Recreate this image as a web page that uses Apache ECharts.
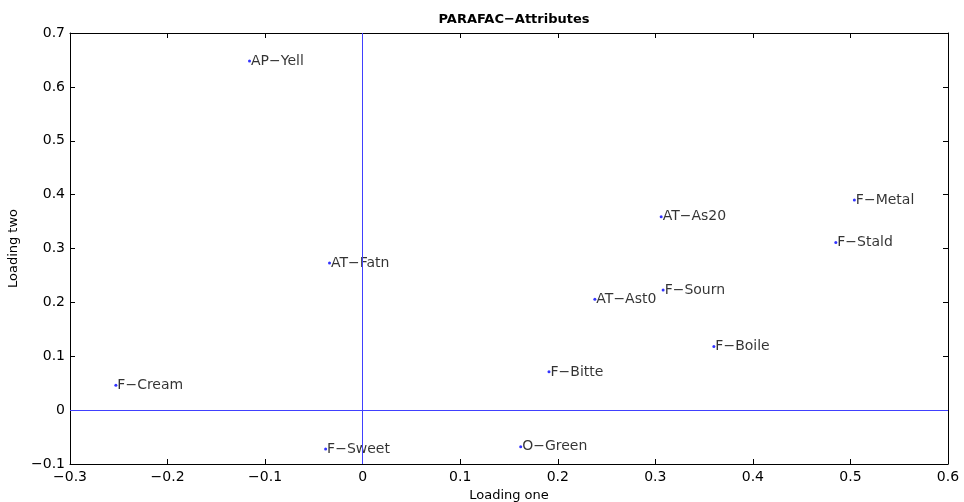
<!DOCTYPE html>
<html>
<head>
<meta charset="utf-8">
<script src="https://cdn.jsdelivr.net/npm/echarts@6/dist/echarts.min.js"></script>
<style>
  html, body { margin: 0; padding: 0; background: #fff; }
  #chart { width: 964px; height: 502px; }
</style>
</head>
<body>
<div id="chart"></div>
<script>
// attribute loadings
var names = ['AP\u2212Yell', 'AT\u2212Fatn', 'F\u2212Cream', 'F\u2212Sweet', 'O\u2212Green', 'F\u2212Bitte',
             'AT\u2212Ast0', 'F\u2212Sourn', 'AT\u2212As20', 'F\u2212Boile', 'F\u2212Metal', 'F\u2212Stald'];
var loadOne = [-0.116, -0.034, -0.253, -0.038, 0.162, 0.191, 0.238, 0.308, 0.306, 0.360, 0.504, 0.485];
var loadTwo = [0.648, 0.273, 0.046, -0.072, -0.068, 0.071, 0.206, 0.223, 0.359, 0.118, 0.390, 0.311];

var xTicks = [-0.3, -0.2, -0.1, 0, 0.1, 0.2, 0.3, 0.4, 0.5, 0.6];
var yTicks = [-0.1, 0, 0.1, 0.2, 0.3, 0.4, 0.5, 0.6, 0.7];

var points = names.map(function (n, i) { return [loadOne[i], loadTwo[i], n]; });

var font = 'DejaVu Sans, Liberation Sans, sans-serif';
var fmt = function (v) { return (Math.round(v * 10) / 10).toString().replace('-', '\u2212'); };

var dom = document.getElementById('chart');
var myChart = echarts.init(dom);

var tickStyle = { show: true, inside: true, length: 5, lineStyle: { color: '#000' } };

var option = {
    animation: false,
    title: {
        text: 'PARAFAC\u2212Attributes',
        left: 509, top: 8, textAlign: 'center',
        textStyle: { fontFamily: font, fontSize: 13, fontWeight: 'bold', color: '#000' }
    },
    grid: { left: 70, right: 16, top: 33, bottom: 38, containLabel: false, outerBoundsMode: 'none' },
    xAxis: [{
        type: 'value', min: xTicks[0], max: xTicks[xTicks.length - 1], interval: 0.1,
        name: 'Loading one', nameLocation: 'middle', nameGap: 23,
        nameTextStyle: { fontFamily: font, fontSize: 13, color: '#000' },
        axisLine: { show: true, onZero: false, lineStyle: { color: '#000' } },
        axisTick: tickStyle,
        splitLine: { show: false },
        axisLabel: { fontFamily: font, fontSize: 14, color: '#000', margin: 6, formatter: fmt }
    }, {
        type: 'value', position: 'top', min: xTicks[0], max: xTicks[xTicks.length - 1], interval: 0.1,
        axisLine: { show: true, onZero: false, lineStyle: { color: '#000' } },
        axisTick: tickStyle, axisLabel: { show: false }, splitLine: { show: false }
    }],
    yAxis: [{
        type: 'value', min: yTicks[0], max: yTicks[yTicks.length - 1], interval: 0.1,
        name: 'Loading two', nameLocation: 'middle', nameGap: 49, nameRotate: 90,
        nameTextStyle: { fontFamily: font, fontSize: 13, color: '#000' },
        axisLine: { show: true, onZero: false, lineStyle: { color: '#000' } },
        axisTick: tickStyle,
        splitLine: { show: false },
        axisLabel: { fontFamily: font, fontSize: 14, color: '#000', margin: 5, formatter: fmt }
    }, {
        type: 'value', position: 'right', min: yTicks[0], max: yTicks[yTicks.length - 1], interval: 0.1,
        axisLine: { show: true, onZero: false, lineStyle: { color: '#000' } },
        axisTick: tickStyle, axisLabel: { show: false }, splitLine: { show: false }
    }],
    series: [{
        type: 'scatter',
        data: points,
        symbol: 'circle',
        symbolSize: 3,
        itemStyle: { color: '#0000ff' },
        label: {
            show: true, position: 'right', distance: 0,
            formatter: function (p) { return p.data[2]; },
            fontFamily: font, fontSize: 14, color: '#000'
        },
        markLine: {
            silent: true, symbol: 'none',
            label: { show: false },
            lineStyle: { color: '#4040ff', width: 1, type: 'solid' },
            data: [{ xAxis: 0 }, { yAxis: 0 }]
        }
    }]
};

myChart.setOption(option);
</script>
</body>
</html>
